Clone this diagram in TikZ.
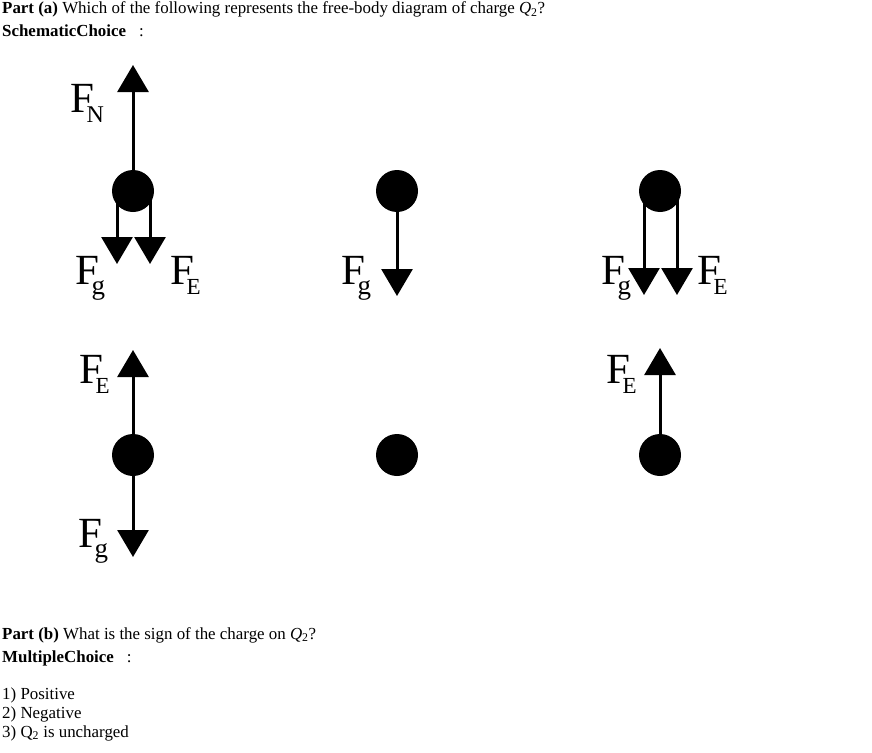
\documentclass[tikz,border=0pt]{standalone}
\usepackage{fontspec}
\setmainfont{Liberation Serif}
\usetikzlibrary{arrows.meta}

\newcommand{\forcename}[2][24]{F\kern-7.5pt\raisebox{-10pt}{\fontsize{#1}{#1}\selectfont #2}}

\tikzset{
    charge/.style={circle, fill=black, minimum size=42pt, inner sep=0pt},
    force/.style={line width=3pt, -{Triangle[width=31pt,length=27pt]}},
    forcelabel/.style={anchor=base west, inner sep=0pt, font=\fontsize{43}{43}\selectfont},
    textline/.style={anchor=base west, inner sep=0pt, font=\fontsize{16.9}{18}\selectfont}
}

\begin{document}
\begin{tikzpicture}[x=1pt, y=-1pt]

    \useasboundingbox (0,0) rectangle (872,752);

    % question text
    \node[textline] (parta) at (2,14) {\textbf{Part (a)} Which of the following represents the free-body diagram of charge \textit{Q}\textsubscript{2}?};
    \node[textline] (schematic) at (2,37) {\textbf{SchematicChoice}\hspace{13pt}:};

    % charges
    \node[charge] (charge1) at (133,191) {};
    \node[charge] (charge2) at (397,191) {};
    \node[charge] (charge3) at (660,191) {};
    \node[charge] (charge4) at (133,455) {};
    \node[charge] (charge5) at (397,455) {};
    \node[charge] (charge6) at (660,455) {};

    % arrow ends
    \coordinate (tip1n) at (133,65);
    \coordinate (tip1g) at (117,264);
    \coordinate (tip1e) at (150,264);
    \coordinate (tip2g) at (397,296);
    \coordinate (tip3g) at (644,295);
    \coordinate (tip3e) at (677,295);
    \coordinate (tip4e) at (133,350);
    \coordinate (tip4g) at (133,557);
    \coordinate (tip6e) at (660,348);

    % forces
    \draw[force] (charge1.center) -- (tip1n);
    \draw[force] ([xshift=-16pt]charge1.center) -- (tip1g);
    \draw[force] ([xshift=17pt]charge1.center) -- (tip1e);
    \draw[force] (charge2.center) -- (tip2g);
    \draw[force] ([xshift=-16pt]charge3.center) -- (tip3g);
    \draw[force] ([xshift=17pt]charge3.center) -- (tip3e);
    \draw[force] (charge4.center) -- (tip4e);
    \draw[force] (charge4.center) -- (tip4g);
    \draw[force] (charge6.center) -- (tip6e);

    % force labels
    \node[forcelabel] (label1n) at (70,112) {\forcename{N}};
    \node[forcelabel] (label1g) at (75,284) {\forcename[27]{g}};
    \node[forcelabel] (label1e) at (170,284) {\forcename[23]{E}};
    \node[forcelabel] (label2g) at (341,284) {\forcename[27]{g}};
    \node[forcelabel] (label3g) at (601,284) {\forcename[27]{g}};
    \node[forcelabel] (label3e) at (697,284) {\forcename[23]{E}};
    \node[forcelabel] (label4e) at (79,383) {\forcename[23]{E}};
    \node[forcelabel] (label4g) at (78,547) {\forcename[27]{g}};
    \node[forcelabel] (label6e) at (606,383) {\forcename[23]{E}};

    % second question
    \node[textline] (partb) at (2,639) {\textbf{Part (b)} What is the sign of the charge on \textit{Q}\textsubscript{2}?};
    \node[textline] (multiple) at (2,662) {\textbf{MultipleChoice}\hspace{13pt}:};
    \node[textline] (choice1) at (2,699) {1) Positive};
    \node[textline] (choice2) at (2,718) {2) Negative};
    \node[textline] (choice3) at (2,737) {3) Q\textsubscript{2} is uncharged};

\end{tikzpicture}
\end{document}
